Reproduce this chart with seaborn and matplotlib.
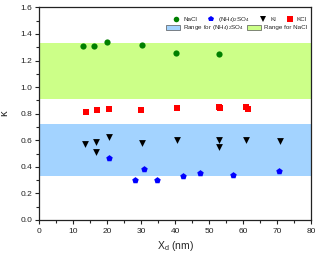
import matplotlib
matplotlib.use("Agg")
import matplotlib.pyplot as plt
from matplotlib.patches import Patch
from matplotlib.lines import Line2D
from matplotlib.ticker import MultipleLocator
import seaborn as sns
import pandas as pd

# ── data ────────────────────────────────────────
nacl_x = [12.8, 16.1, 19.9, 30.2, 40.3, 52.9]
nacl_k = [1.313, 1.306, 1.338, 1.318, 1.255, 1.248]

amsul_x = [20.4, 28.1, 30.8, 34.6, 42.3, 47.4, 57.0, 70.6]
amsul_k = [0.468, 0.302, 0.385, 0.297, 0.334, 0.355, 0.337, 0.365]

ki_x = [13.5, 16.7, 16.7, 20.4, 30.1, 40.5, 52.8, 52.8, 60.9, 70.9]
ki_k = [0.571, 0.584, 0.510, 0.624, 0.579, 0.600, 0.600, 0.549, 0.598, 0.595]

kcl_x = [13.6, 16.9, 20.4, 30.0, 40.4, 52.8, 53.2, 60.9, 61.4]
kcl_k = [0.815, 0.830, 0.835, 0.828, 0.840, 0.850, 0.840, 0.848, 0.838]

amsul_range = (0.33, 0.72)
nacl_range = (0.913, 1.33)

AMSUL = "(NH$_4$)$_2$SO$_4$"

# ── style ───────────────────────────────────────
sns.set_theme(style="ticks")
plt.rcParams["font.family"] = ["Liberation Sans", "DejaVu Sans"]
plt.rcParams["mathtext.fontset"] = "custom"
plt.rcParams["mathtext.rm"] = "Liberation Sans"
plt.rcParams["mathtext.it"] = "Liberation Sans"

fig = plt.figure(figsize=(3.2, 2.56), dpi=100)
ax = fig.add_axes([0.123, 0.141, 0.849, 0.830])

blue_band = "#a3d3ff"
green_band = "#ccff88"
ax.axhspan(*amsul_range, color=blue_band, lw=0, zorder=0)
ax.axhspan(*nacl_range, color=green_band, lw=0, zorder=0)

series = [
    (nacl_x, nacl_k, "#008000", "o", 20, "NaCl"),
    (amsul_x, amsul_k, "#0000ff", "p", 24, AMSUL),
    (ki_x, ki_k, "#000000", "v", 24, "KI"),
    (kcl_x, kcl_k, "#ff0000", "s", 15, "KCl"),
]
for xs, ks, col, mk, sz, lab in series:
    df = pd.DataFrame({"x": xs, "k": ks})
    sns.scatterplot(data=df, x="x", y="k", color=col, marker=mk, s=sz,
                    linewidth=0, ax=ax, zorder=3)

ax.set_xlim(0, 80)
ax.set_ylim(0, 1.6)
ax.xaxis.set_major_locator(MultipleLocator(10))
ax.xaxis.set_minor_locator(MultipleLocator(5))
ax.yaxis.set_major_locator(MultipleLocator(0.2))
ax.yaxis.set_minor_locator(MultipleLocator(0.1))
ax.yaxis.set_major_formatter(matplotlib.ticker.FormatStrFormatter("%.1f"))
ax.tick_params(which="major", length=3, width=0.8, labelsize=6, colors="#222222")
ax.tick_params(axis="x", pad=3)
ax.tick_params(axis="y", pad=2)
ax.tick_params(which="minor", length=2, width=0.8)
for sp in ax.spines.values():
    sp.set_linewidth(0.9)
    sp.set_color("#222222")

ax.set_xlabel("X$_d$ (nm)", fontsize=7.5, labelpad=3)
ax.set_ylabel("κ", fontsize=8, labelpad=8)

# ── legends ─────────────────────────────────────
mk_handles = [Line2D([], [], ls="", marker=mk, color=col, markersize=4, mew=0)
              for _, _, col, mk, _, _ in series]
mk_labels = [s[5] for s in series]
leg1 = ax.legend(mk_handles, mk_labels, ncol=4, fontsize=4.5, frameon=False,
                 loc="upper right", bbox_to_anchor=(1.0, 0.985),
                 handlelength=1.2, handletextpad=0.5, columnspacing=1.6,
                 borderaxespad=0.3)
ax.add_artist(leg1)
band_handles = [Patch(facecolor=blue_band, edgecolor="#555555", lw=0.5),
                Patch(facecolor=green_band, edgecolor="#555555", lw=0.5)]
ax.legend(band_handles, ["Range for " + AMSUL, "Range for NaCl"], ncol=2,
          fontsize=4.5, frameon=False, loc="upper right",
          bbox_to_anchor=(1.0, 0.945), handlelength=2.2, handleheight=0.9,
          handletextpad=0.4, columnspacing=0.6, borderaxespad=0.3)

plt.savefig("out.png", dpi=100)
